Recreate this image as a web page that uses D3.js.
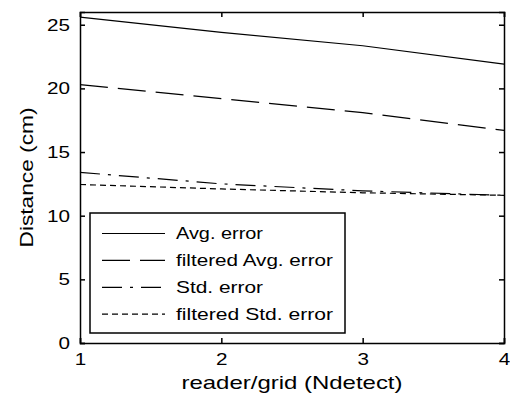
<!DOCTYPE html>
<html>
<head>
<meta charset="utf-8">
<script src="https://cdn.jsdelivr.net/npm/d3@7"></script>
<style>
  body { margin: 0; background: #fff; }
  svg text { font-family: "Liberation Sans", Arial, sans-serif; fill: #000; }
</style>
</head>
<body>
<svg id="chart" width="510" height="402"></svg>
<script>
const xValues = [1, 2, 3, 4];
const avgError = [25.6, 24.4, 23.35, 21.9];
const filteredAvgError = [20.3, 19.2, 18.1, 16.7];
const stdError = [13.4, 12.5, 11.95, 11.6];
const filteredStdError = [12.45, 12.1, 11.8, 11.6];
const xTicks = [1, 2, 3, 4];
const yTicks = [0, 5, 10, 15, 20, 25];

const series = [
  {name: "Avg. error", values: avgError, dash: null, w: 87},
  {name: "filtered Avg. error", values: filteredAvgError, dash: "28,10", w: 157},
  {name: "Std. error", values: stdError, dash: "20,8,3,8", w: 87},
  {name: "filtered Std. error", values: filteredStdError, dash: "6,4", w: 157}
];

const margin = {top: 12, right: 6, bottom: 59, left: 80};
const width = 510, height = 402;

const svg = d3.select("#chart");
const x = d3.scaleLinear().domain([1, 4]).range([margin.left, width - margin.right]);
const y = d3.scaleLinear().domain([0, 26]).range([height - margin.bottom, margin.top]);

const line = d3.line()
  .x((d, i) => x(xValues[i]))
  .y(d => y(d));

// lines
svg.append("g")
  .selectAll("path")
  .data(series)
  .enter().append("path")
    .attr("d", d => line(d.values))
    .attr("fill", "none")
    .attr("stroke", "#000")
    .attr("stroke-width", 1.2)
    .attr("stroke-dasharray", d => d.dash);

// axes with inward ticks on all four sides
const tickLen = 5;
const fmt = d3.format("d");
svg.append("g")
  .attr("transform", `translate(0,${y(0)})`)
  .call(d3.axisBottom(x).tickValues(xTicks).tickSize(-tickLen).tickPadding(10).tickFormat(fmt));
svg.append("g")
  .attr("transform", `translate(0,${y(26)})`)
  .call(d3.axisTop(x).tickValues(xTicks).tickSize(-tickLen).tickFormat(""));
svg.append("g")
  .attr("transform", `translate(${x(1)},0)`)
  .call(d3.axisLeft(y).tickValues(yTicks).tickSize(-tickLen).tickPadding(10).tickFormat(fmt));
svg.append("g")
  .attr("transform", `translate(${x(4)},0)`)
  .call(d3.axisRight(y).tickValues(yTicks).tickSize(-tickLen).tickFormat(""));

svg.selectAll(".domain").attr("stroke", "#000").attr("stroke-width", 1.5);
svg.selectAll(".tick line").attr("stroke", "#000").attr("stroke-width", 1.5);
svg.selectAll(".tick text")
  .attr("font-size", 17)
  .attr("font-family", "Liberation Sans, Arial, sans-serif")
  .each(function() {
    const t = d3.select(this).text();
    if (t) d3.select(this).attr("textLength", 11.5 * t.length).attr("lengthAdjust", "spacingAndGlyphs");
  });

// axis titles
svg.append("text")
  .attr("x", (x(1) + x(4)) / 2)
  .attr("y", 389)
  .attr("text-anchor", "middle")
  .attr("font-size", 19)
  .attr("textLength", 221)
  .attr("lengthAdjust", "spacingAndGlyphs")
  .text("reader/grid (Ndetect)");

svg.append("text")
  .attr("transform", `translate(33,${(y(0) + y(26)) / 2}) rotate(-90)`)
  .attr("text-anchor", "middle")
  .attr("font-size", 19)
  .attr("textLength", 140)
  .attr("lengthAdjust", "spacingAndGlyphs")
  .text("Distance (cm)");

// legend
const legend = svg.append("g");
legend.append("rect")
  .attr("x", 90).attr("y", 213)
  .attr("width", 255).attr("height", 120)
  .attr("fill", "#fff")
  .attr("stroke", "#000")
  .attr("stroke-width", 1.5);

const rows = legend.selectAll("g.row")
  .data(series)
  .enter().append("g")
    .attr("class", "row")
    .attr("transform", (d, i) => `translate(0,${233.5 + i * 26.9})`);

rows.append("line")
  .attr("x1", 102).attr("x2", 165)
  .attr("y1", 0).attr("y2", 0)
  .attr("stroke", "#000")
  .attr("stroke-width", 1.2)
  .attr("stroke-dasharray", d => d.dash);

rows.append("text")
  .attr("x", 176)
  .attr("y", 5.5)
  .attr("font-size", 16.5)
  .attr("textLength", d => d.w)
  .attr("lengthAdjust", "spacingAndGlyphs")
  .text(d => d.name);
</script>
</body>
</html>
